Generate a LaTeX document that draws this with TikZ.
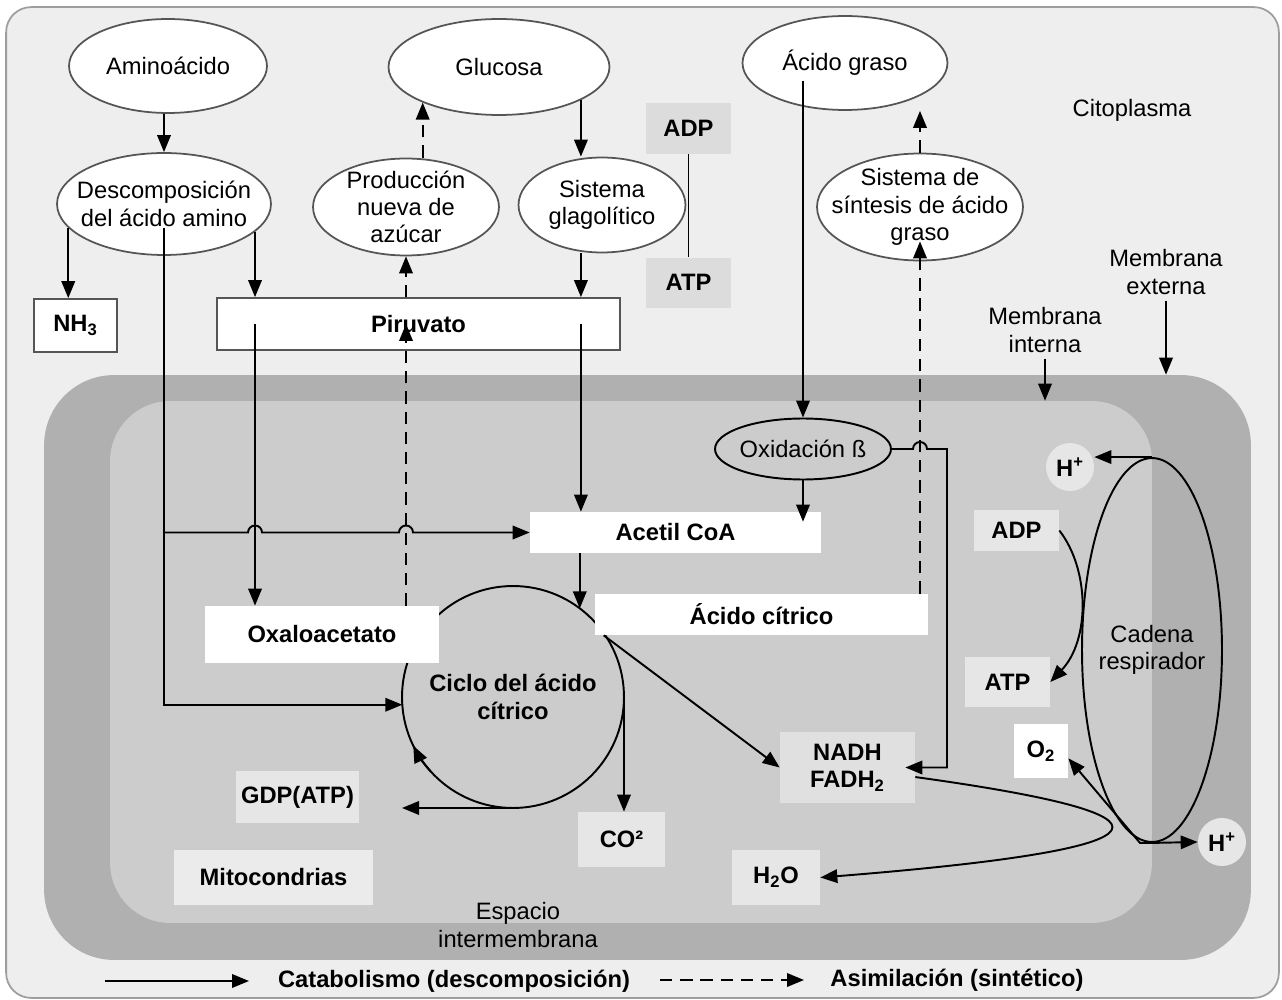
\documentclass[tikz,border=0pt]{standalone}
\usepackage{fontspec}
\setmainfont{Liberation Sans}
\usepackage{tikz}
\usetikzlibrary{positioning}
\usetikzlibrary{arrows.meta,shapes,calc}

\definecolor{citobg}{HTML}{EEEEEE}
\definecolor{framegray}{HTML}{9E9E9E}
\definecolor{membrana}{HTML}{B0B0B0}
\definecolor{matriz}{HTML}{CCCCCC}
\definecolor{ovalline}{HTML}{555555}
\definecolor{adpgray}{HTML}{DCDCDC}
\definecolor{lightbox}{HTML}{E6E6E6}
\definecolor{nadhgray}{HTML}{E0E0E0}
\definecolor{mitogray}{HTML}{EBEBEB}

\tikzset{
  every node/.style={font=\fontsize{13.5}{15.5}\selectfont},
  boldtxt/.style={font=\fontsize{13.5}{15.5}\selectfont\bfseries},
  oval/.style={ellipse,draw=ovalline,line width=1pt,fill=white,inner xsep=-1.3cm,inner ysep=-0.9cm,align=center},
  wbox/.style={boldtxt,fill=white,inner sep=0pt,align=center},
  gbox/.style={boldtxt,fill=lightbox,inner sep=0pt,align=center},
  obox/.style={wbox,draw=ovalline,line width=1pt},
  cat/.style={line width=1.1pt,-{Triangle[length=0.34cm,width=0.27cm]}},
  syn/.style={cat,dash pattern=on 7pt off 4.5pt}
}

\begin{document}
\begin{tikzpicture}[x=0.02cm,y=-0.02cm]
  \useasboundingbox (0,0) rectangle (1282,1000);
  \node[draw=framegray,line width=1pt,fill=citobg,rounded corners=0.5cm,inner sep=0pt,minimum width=25.46cm,minimum height=19.82cm] (cito) at (642.5,502.5) {};
  \node[fill=membrana,rounded corners=1.4cm,inner sep=0pt,minimum width=24.14cm,minimum height=11.7cm] (outer) at (647.5,667.5) {};
  \node[fill=matriz,rounded corners=1.2cm,inner sep=0pt,minimum width=20.84cm,minimum height=10.44cm] (inner) at (631,662) {};
  \node[circle,draw,line width=1.1pt,inner sep=0pt,outer sep=0pt,minimum size=4.44cm,boldtxt,align=center] (ciclo) at (513,697) {Ciclo del ácido\\cítrico};

  % citoplasma
  \node[oval,minimum width=3.96cm,minimum height=1.88cm] (amino) at (168,66) {Aminoácido};
  \node[oval,minimum width=4.28cm,minimum height=2.04cm] (desc) at (164,204) {Descomposición\\del ácido amino};
  \node[oval,minimum width=3.72cm,minimum height=1.94cm] (prod) at (406,207) {Producción\\nueva de\\azúcar};
  \node[oval,minimum width=4.42cm,minimum height=1.92cm] (glu) at (499,67) {Glucosa};
  \node[oval,minimum width=3.34cm,minimum height=1.9cm] (gly) at (602,205) {Sistema\\glagolítico};
  \node[oval,minimum width=4.1cm,minimum height=1.88cm] (graso) at (845,63) {Ácido graso};
  \node[oval,minimum width=4.12cm,minimum height=2.14cm] (sint) at (920,207) {Sistema de\\síntesis de ácido\\graso};
  \node[gbox,fill=adpgray,minimum width=1.7cm,minimum height=1.02cm] (adpA) at (688.5,128.5) {ADP};
  \node[gbox,fill=adpgray,minimum width=1.7cm,minimum height=1cm] (atpA) [below=2.06cm of adpA] {ATP};
  \node[obox,minimum width=1.66cm,minimum height=1.06cm] (nh3) at (75.5,325.5) {NH\textsubscript{3}};
  \node[obox,minimum width=8.06cm,minimum height=1.04cm] (piru) at (418.5,324) {Piruvato};
  \node (citotxt) at (1132,110) {Citoplasma};
  \node[align=center] (memext) at (1166,272) {Membrana\\externa};
  \node[align=center] (memint) at (1045,330) {Membrana\\interna};

  % mitocondria
  \node[oval,fill=matriz,draw=black,line width=1.1pt,minimum width=3.52cm,minimum height=1.22cm] (oxid) at (803,449) {Oxidación ß};
  \node[wbox,minimum width=5.82cm,minimum height=0.82cm] (acetil) at (675.5,532.5) {Acetil CoA};
  \node[wbox,minimum width=6.66cm,minimum height=0.82cm] (acit) at (761.5,614.5) {Ácido cítrico};
  \node[wbox,minimum width=4.68cm,minimum height=1.14cm] (oxalo) at (322,634.5) {Oxaloacetato};
  \node[gbox,minimum width=2.46cm,minimum height=1.04cm] (gdp) at (297.5,797) {GDP(ATP)};
  \node[gbox,minimum width=1.74cm,minimum height=1.1cm] (co2) at (621.5,839.5) {CO²};
  \node[gbox,fill=nadhgray,minimum width=2.7cm,minimum height=1.42cm] (nadh) at (847.5,767.5) {NADH\\FADH\textsubscript{2}};
  \node[gbox,minimum width=1.76cm,minimum height=1.1cm] (h2o) at (776,877.5) {H\textsubscript{2}O};
  \node[gbox,fill=mitogray,minimum width=3.98cm,minimum height=1.1cm] (mito) at (273.5,877.5) {Mitocondrias};
  \node[align=center] (espacio) at (518,925) {Espacio\\intermembrana};
  \node[gbox,minimum width=1.7cm,minimum height=0.82cm] (adpB) at (1016.5,530.5) {ADP};
  \node[gbox,minimum width=1.7cm,minimum height=1cm] (atpB) at (1007.5,682) {ATP};
  \node[wbox,minimum width=1.08cm,minimum height=1.08cm] (o2) at (1041,751) {O\textsubscript{2}};
  \node[circle,fill=lightbox,boldtxt,inner sep=0pt,minimum size=0.96cm] (hp1) at (1070,467) {H\textsuperscript{+}};
  \node[circle,fill=lightbox,boldtxt,inner sep=0pt,minimum size=0.96cm] (hp2) at (1222,842) {H\textsuperscript{+}};
  \node[oval,fill=none,draw=black,line width=1.1pt,minimum width=2.8cm,minimum height=7.68cm] (resp) at (1152,650) {Cadena\\respirador};

  \coordinate (jA) at (desc.-17 |- acetil.west);
  \coordinate (jB) at (prod.south |- acetil.west);
  \coordinate (jC) at (sint.south |- oxid.east);
  \coordinate (oxR) at (947,449);

  \draw[cat] (amino.south -| desc.north) -- (desc.north);
  \draw[cat] (desc.194) -- (desc.194 |- nh3.north);
  \draw[cat] (desc.-17) -- (desc.-17 |- piru.north);
  \draw[cat] (desc.-17 |- piru.center) -- (desc.-17 |- oxalo.north);
  \draw[cat] (desc.center) ++(0,24) |- (ciclo.184);
  \draw[cat] (desc.center |- acetil.west) -- ([xshift=-0.14cm]jA) arc[start angle=180,end angle=0,radius=0.14cm]
    -- ([xshift=-0.14cm]jB) arc[start angle=180,end angle=0,radius=0.14cm] -- (acetil.west);
  \draw[syn] (prod.south |- oxalo.north) -- (prod.south |- piru.center);
  \draw[syn] (prod.south |- piru.north) -- (prod.south);
  \draw[syn] (prod.north -| glu.205) -- (glu.205);
  \draw[cat] (glu.-22) -- (glu.-22 |- gly.north);
  \draw[cat] (glu.-22 |- gly.south) -- (glu.-22 |- piru.north);
  \draw[cat] (glu.-22 |- piru.center) -- (glu.-22 |- acetil.north);
  \draw[cat] (ciclo.53 |- acetil.south) -- (ciclo.53);
  \draw[line width=1.1pt] (adpA) -- (atpA);
  \draw[cat] (oxid.north |- graso.center) ++(0,18) -- (oxid.north);
  \draw[cat] (oxid.south) -- ($(oxid.south |- acetil.north)+(0,10)$);
  \draw[cat] (oxid.east) -- ([xshift=-0.14cm]jC) arc[start angle=180,end angle=0,radius=0.14cm] -- (oxR) |- ([xshift=-0.2cm]nadh.east);
  \draw[syn] (sint.south |- acit.north) -- ($(sint.south)+(0,-20)$);
  \draw[syn] (sint.north) -- (sint.north |- graso.south);
  \draw[cat] (memext.south) -- (memext.south |- outer.north);
  \draw[cat] (memint.south) -- (memint.south |- inner.north);
  \draw[cat] (ciclo.222) arc[start angle=222,end angle=206,radius=2.22cm];
  \draw[cat] (ciclo.south) -- (ciclo.south -| ciclo.west);
  \draw[cat] (ciclo.east) -- (ciclo.east |- co2.north);
  \draw[cat] ([xshift=0.18cm]acit.south west) -- (nadh.west);
  \draw[cat] (nadh.-8) .. controls (1190,815) and (1190,848) .. (h2o.east);
  \draw[cat] (adpB.east) .. controls (1090,570) and (1090,640) .. (atpB.east);
  \draw[cat] (resp.north) -- (resp.north -| hp1.east);
  \draw[cat] (resp.south) -- ++(-12,0) -- (o2.-15);
  \draw[cat] (resp.south) -- (hp2.west);

  % leyenda
  \coordinate (legA) at (105,981);
  \coordinate (legB) at (660,980);
  \node[boldtxt] (legcat) at (454,981) {Catabolismo (descomposición)};
  \node[boldtxt] (legsyn) at (957,980) {Asimilación (sintético)};
  \draw[cat] (legA) -- ++(144,0);
  \draw[syn] (legB) -- ++(144,0);
\end{tikzpicture}
\end{document}
